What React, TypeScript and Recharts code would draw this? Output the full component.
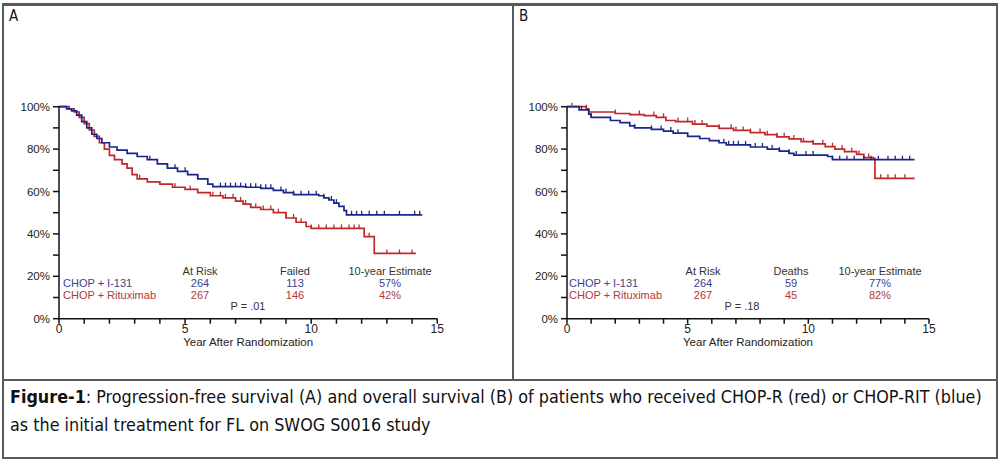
import React from "react";
import { ComposedChart, Line, Scatter, XAxis, YAxis } from "recharts";

type Pt = { t: number; s: number };

// Panel A: progression-free survival
const pfsI131: Pt[] = [
  { t: 0, s: 100 }, { t: 0.3, s: 99 }, { t: 0.5, s: 98 }, { t: 0.7, s: 96 },
  { t: 0.9, s: 93 }, { t: 1.1, s: 90 }, { t: 1.3, s: 87 }, { t: 1.5, s: 85 },
  { t: 1.7, s: 83 }, { t: 2.0, s: 81 }, { t: 2.3, s: 79.5 }, { t: 2.7, s: 78 },
  { t: 3.1, s: 76.5 }, { t: 3.5, s: 75 }, { t: 3.9, s: 73 }, { t: 4.3, s: 71 },
  { t: 4.7, s: 69.5 }, { t: 5.1, s: 68 }, { t: 5.5, s: 66 }, { t: 5.9, s: 63.5 },
  { t: 6.1, s: 62.3 }, { t: 7.4, s: 62 }, { t: 8.0, s: 61.5 }, { t: 8.5, s: 60.5 },
  { t: 8.9, s: 59.5 }, { t: 9.3, s: 58.5 }, { t: 10.3, s: 58 }, { t: 10.5, s: 57 },
  { t: 10.7, s: 56 }, { t: 10.9, s: 54.5 }, { t: 11.1, s: 53 }, { t: 11.3, s: 51 },
  { t: 11.4, s: 49 }, { t: 14.4, s: 49 },
];
const pfsRitux: Pt[] = [
  { t: 0, s: 100 }, { t: 0.4, s: 99 }, { t: 0.6, s: 97.5 }, { t: 0.8, s: 95 },
  { t: 1.0, s: 92 }, { t: 1.2, s: 89 }, { t: 1.4, s: 86 }, { t: 1.6, s: 83 },
  { t: 1.8, s: 80 }, { t: 2.0, s: 77 }, { t: 2.2, s: 75 }, { t: 2.5, s: 73 },
  { t: 2.7, s: 71 }, { t: 2.9, s: 68 }, { t: 3.1, s: 66 }, { t: 3.5, s: 64.5 },
  { t: 4.0, s: 63.5 }, { t: 4.5, s: 62 }, { t: 5.0, s: 61 }, { t: 5.5, s: 59.5 },
  { t: 6.0, s: 58 }, { t: 6.5, s: 57 }, { t: 7.0, s: 55.5 }, { t: 7.3, s: 54 },
  { t: 7.6, s: 52.5 }, { t: 8.0, s: 51.5 }, { t: 8.5, s: 50 }, { t: 9.0, s: 47.5 },
  { t: 9.4, s: 45.5 }, { t: 9.8, s: 43.5 }, { t: 10.0, s: 42.6 }, { t: 12.1, s: 38.7 },
  { t: 12.5, s: 30.8 }, { t: 14.15, s: 30.8 },
];
const pfsI131Censor = [3.6, 4.3, 4.6, 5.0, 5.5, 6.4, 6.6, 6.8, 7.0, 7.2, 7.4, 7.6, 7.8, 8.0, 8.2, 8.4, 8.8, 9.0, 9.3, 9.6, 9.9, 10.2, 10.5, 10.8, 11.0, 11.6, 11.8, 12.0, 12.3, 12.6, 12.9, 13.5, 14.1, 14.3];
const pfsRituxCensor = [3.2, 4.6, 5.2, 6.1, 6.4, 6.6, 6.9, 7.2, 7.4, 7.6, 7.8, 8.1, 8.4, 8.7, 9.0, 9.3, 9.6, 10.0, 10.3, 10.6, 10.9, 11.2, 11.5, 11.7, 11.9, 12.3, 13.0, 13.5, 14.0];

// Panel B: overall survival
const osI131: Pt[] = [
  { t: 0, s: 100 }, { t: 0.5, s: 98.5 }, { t: 0.9, s: 96.5 }, { t: 1.0, s: 95 },
  { t: 1.8, s: 93.5 }, { t: 2.2, s: 92.5 }, { t: 2.6, s: 91 }, { t: 2.8, s: 90 },
  { t: 3.5, s: 89.3 }, { t: 4.0, s: 88.5 }, { t: 4.4, s: 87.5 }, { t: 5.0, s: 86 },
  { t: 5.5, s: 85 }, { t: 5.9, s: 84 }, { t: 6.3, s: 83 }, { t: 6.6, s: 82 },
  { t: 7.6, s: 81 }, { t: 8.3, s: 80 }, { t: 8.8, s: 79 }, { t: 9.2, s: 78 },
  { t: 9.4, s: 77.2 }, { t: 10.8, s: 76.5 }, { t: 11.0, s: 75 }, { t: 14.4, s: 75 },
];
const osRitux: Pt[] = [
  { t: 0, s: 100 }, { t: 0.8, s: 99 }, { t: 0.9, s: 97.5 }, { t: 2.0, s: 96.8 },
  { t: 2.6, s: 96.3 }, { t: 3.2, s: 95.8 }, { t: 3.7, s: 95 }, { t: 4.1, s: 93.5 },
  { t: 4.5, s: 93 }, { t: 5.2, s: 91.8 }, { t: 5.8, s: 90.8 }, { t: 6.3, s: 89.8 },
  { t: 6.9, s: 88.8 }, { t: 7.6, s: 87.8 }, { t: 8.2, s: 86.8 }, { t: 8.7, s: 85.8 },
  { t: 9.2, s: 84.8 }, { t: 9.7, s: 83.5 }, { t: 10.2, s: 82.5 }, { t: 10.7, s: 81.2 },
  { t: 11.1, s: 80 }, { t: 11.5, s: 78.8 }, { t: 12.0, s: 77.5 }, { t: 12.3, s: 76 },
  { t: 12.7, s: 75.5 }, { t: 12.76, s: 66.2 }, { t: 14.4, s: 66.2 },
];
const osI131Censor = [0.6, 1.0, 2.8, 3.5, 3.9, 4.3, 4.6, 6.5, 6.7, 6.9, 7.1, 7.4, 7.8, 8.1, 8.5, 8.8, 9.2, 9.5, 9.9, 10.2, 11.0, 11.3, 11.6, 11.9, 12.3, 12.6, 12.9, 13.3, 13.6, 13.9, 14.2];
const osRituxCensor = [0.2, 0.8, 2.0, 3.0, 3.6, 4.0, 4.6, 5.0, 5.3, 5.6, 6.3, 6.8, 7.0, 7.3, 7.6, 8.0, 8.3, 8.7, 9.0, 9.4, 9.8, 10.2, 10.6, 11.0, 11.4, 11.8, 12.1, 12.5, 13.0, 13.3, 13.6, 14.0];

const xTicks = [0, 1, 2, 3, 4, 5, 6, 7, 8, 9, 10, 11, 12, 13, 14, 15];
const yTicks = [0, 10, 20, 30, 40, 50, 60, 70, 80, 90, 100];

const tableA = {
  cols: ["At Risk", "Failed", "10-year Estimate"],
  i131: ["264", "113", "57%"],
  ritux: ["267", "146", "42%"],
  p: "P = .01",
};
const tableB = {
  cols: ["At Risk", "Deaths", "10-year Estimate"],
  i131: ["264", "59", "77%"],
  ritux: ["267", "45", "82%"],
  p: "P = .18",
};

const BLUE = "#1c2688";
const RED = "#c0282a";
const TXT_BLUE = "#3b3f8c";
const TXT_RED = "#b0393b";

// survival value of a step curve at time t
const stepAt = (curve: Pt[], t: number) => {
  let v = curve[0].s;
  for (const p of curve) if (p.t <= t) v = p.s;
  return v;
};
const censorPts = (curve: Pt[], times: number[]) =>
  times.map((t) => ({ t, s: stepAt(curve, t) }));

const CensorMark = (color: string) => (props: any) => (
  <line x1={props.cx} x2={props.cx} y1={props.cy - 4} y2={props.cy} stroke={color} strokeWidth={1.3} />
);

const font = "'Liberation Sans', Arial, sans-serif";
const narrow = "'Liberation Sans Narrow', 'DejaVu Sans Condensed', sans-serif";

function KMPanel(props: {
  blue: Pt[];
  red: Pt[];
  blueC: number[];
  red_C: number[];
  marginLeft: number;
  marginRight: number;
  width: number;
}) {
  return (
    <ComposedChart
      width={props.width}
      height={370}
      margin={{ top: 106.7, right: props.marginRight, bottom: 21.3, left: props.marginLeft }}
    >
      <XAxis
        dataKey="t"
        type="number"
        domain={[0, 15]}
        ticks={xTicks}
        interval={0}
        tickFormatter={(v: number) => (v % 5 === 0 ? String(v) : "")}
        tick={{ fill: "#222", fontSize: 12, fontFamily: font }}
        tickSize={5}
        tickMargin={1}
        stroke="#111"
        strokeWidth={1.5}
        height={30}
        label={{ value: "Year After Randomization", position: "insideBottom", offset: 3, fill: "#222", fontSize: 11.5, fontFamily: font }}
      />
      <YAxis
        dataKey="s"
        type="number"
        domain={[0, 100]}
        ticks={yTicks}
        interval={0}
        tickFormatter={(v: number) => (v % 20 === 0 ? `${v}%` : "")}
        tick={{ fill: "#222", fontSize: 11.5, fontFamily: font }}
        tickSize={6}
        tickMargin={3}
        stroke="#111"
        strokeWidth={1.5}
        width={51}
      />
      <Line data={props.red} dataKey="s" type="stepAfter" stroke={RED} strokeWidth={1.7} dot={false} isAnimationActive={false} />
      <Line data={props.blue} dataKey="s" type="stepAfter" stroke={BLUE} strokeWidth={1.7} dot={false} isAnimationActive={false} />
      <Scatter data={censorPts(props.red, props.red_C)} dataKey="s" shape={CensorMark(RED)} isAnimationActive={false} />
      <Scatter data={censorPts(props.blue, props.blueC)} dataKey="s" shape={CensorMark(BLUE)} isAnimationActive={false} />
    </ComposedChart>
  );
}

function Table(props: { x0: number; cols: number[]; t: typeof tableA; px: number }) {
  const base: React.CSSProperties = { position: "absolute", fontFamily: font, fontSize: 11, lineHeight: "12px", whiteSpace: "nowrap" };
  const c = (x: number, y: number, text: string, color: string, key: string) => (
    <div key={key} style={{ ...base, left: x - 60, width: 120, textAlign: "center", top: y - 6, color }}>{text}</div>
  );
  return (
    <>
      <div style={{ ...base, left: props.x0, top: 277, color: TXT_BLUE }}>CHOP + I-131</div>
      <div style={{ ...base, left: props.x0, top: 289, color: TXT_RED }}>CHOP + Rituximab</div>
      {props.t.cols.map((h, i) => c(props.cols[i], 271, h, "#333", "h" + i))}
      {props.t.i131.map((h, i) => c(props.cols[i], 283, h, TXT_BLUE, "b" + i))}
      {props.t.ritux.map((h, i) => c(props.cols[i], 295, h, TXT_RED, "r" + i))}
      {c(props.px, 306, props.t.p, "#333", "p")}
    </>
  );
}

export default function App() {
  const line = "#5a5a5a";
  return (
    <div style={{ position: "absolute", left: 0, top: 0, width: 1000, height: 460, background: "#fff", overflow: "hidden" }}>
      {/* frame */}
      <div style={{ position: "absolute", left: 2, top: 3, width: 992, height: 451, border: `2px solid ${line}`, borderTopWidth: 3 }} />
      <div style={{ position: "absolute", left: 512, top: 4, width: 2, height: 377, background: line }} />
      <div style={{ position: "absolute", left: 2, top: 379, width: 996, height: 2, background: line }} />
      <div style={{ position: "absolute", left: 9, top: 7, fontFamily: narrow, fontSize: 15, color: "#111" }}>A</div>
      <div style={{ position: "absolute", left: 519, top: 7, fontFamily: narrow, fontSize: 15, color: "#111" }}>B</div>

      <div style={{ position: "absolute", left: 0, top: 0 }}>
        <KMPanel blue={pfsI131} red={pfsRitux} blueC={pfsI131Censor} red_C={pfsRituxCensor} width={500} marginLeft={8} marginRight={62.7} />
      </div>
      <div style={{ position: "absolute", left: 513, top: 0 }}>
        <KMPanel blue={osI131} red={osRitux} blueC={osI131Censor} red_C={osRituxCensor} width={480} marginLeft={3} marginRight={64} />
      </div>

      <Table x0={63} cols={[200, 295, 390]} t={tableA} px={248} />
      <Table x0={569} cols={[703, 791, 880]} t={tableB} px={742} />

      <div style={{ position: "absolute", left: 10, top: 383, width: 988, fontFamily: narrow, fontSize: 17.8, lineHeight: "28px", color: "#111", whiteSpace: "nowrap" }}>
        <b>Figure-1</b>: Progression-free survival (A) and overall survival (B) of patients who received CHOP-R (red) or CHOP-RIT (blue)
        <br />
        as the initial treatment for FL on SWOG S0016 study
      </div>
    </div>
  );
}
